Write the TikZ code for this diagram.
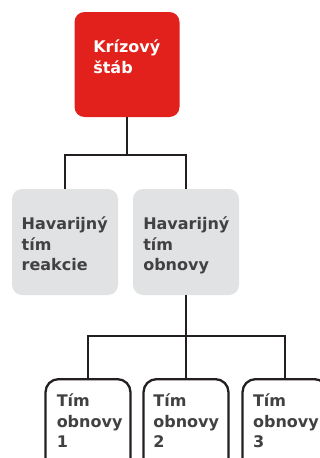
\documentclass[tikz,border=0pt]{standalone}
\usepackage{fontspec}
\setmainfont{DejaVu Sans}
\definecolor{stabred}{HTML}{E2211C}
\definecolor{timgray}{HTML}{E1E2E3}
\definecolor{textgray}{HTML}{414042}
\definecolor{linedark}{HTML}{231F20}
\tikzset{
  unitbox/.style={rectangle,rounded corners=10pt,inner sep=0pt,minimum width=106pt,minimum height=106pt},
  stabbox/.style={unitbox,fill=stabred,minimum width=105pt,minimum height=105pt},
  havbox/.style={unitbox,fill=timgray},
  timbox/.style={unitbox,draw=linedark,line width=2.3pt,fill=white,rounded corners=13pt,minimum width=85pt,minimum height=110pt,anchor=north},
  boxtext/.style={anchor=base west,inner sep=0pt,align=left,text=textgray,font=\bfseries\fontsize{16pt}{20.5pt}\selectfont},
  conn/.style={draw=linedark,line width=2.3pt}
}
\begin{document}
\begin{tikzpicture}[x=1pt,y=-1pt]
  \useasboundingbox (0,0) rectangle (320,458);
  \clip (0,0) rectangle (320,458);
  \node[stabbox] (stab) at (127,64.5) {};
  \node[havbox] (reakcia) at (65,242) {};
  \node[havbox] (obnova) at (186,242) {};
  \node[timbox] (tim1) at (88,378) {};
  \node[timbox] (tim2) at (186,378) {};
  \node[timbox] (tim3) at (285,378) {};
  % texty (base = posledny riadok)
  \node[boxtext,text=white] (stab-t) at ([shift={(18.8,61.5)}]stab.north west) {Krízový\\štáb};
  \node[boxtext] (reakcia-t) at ([shift={(9.7,82)}]reakcia.north west) {Havarijný\\tím\\reakcie};
  \node[boxtext] (obnova-t) at ([shift={(10.3,82)}]obnova.north west) {Havarijný\\tím\\obnovy};
  \node[boxtext] (tim1-t) at ([shift={(12.2,69.7)}]tim1.north west) {Tím\\obnovy\\1};
  \node[boxtext] (tim2-t) at ([shift={(10.8,69.7)}]tim2.north west) {Tím\\obnovy\\2};
  \node[boxtext] (tim3-t) at ([shift={(11.5,69.7)}]tim3.north west) {Tím\\obnovy\\3};
  % spojnice
  \coordinate (fork1) at ([yshift=-37.5]stab.south);
  \coordinate (fork2) at ([yshift=-41]obnova.south);
  \draw[conn] (stab.south) -- (fork1);
  \draw[conn] (reakcia.north) |- (fork1) -| (obnova.north);
  \draw[conn] (obnova.south) -- (tim2.north);
  \draw[conn] (tim1.north) |- (fork2) -| (tim3.north);
\end{tikzpicture}
\end{document}
